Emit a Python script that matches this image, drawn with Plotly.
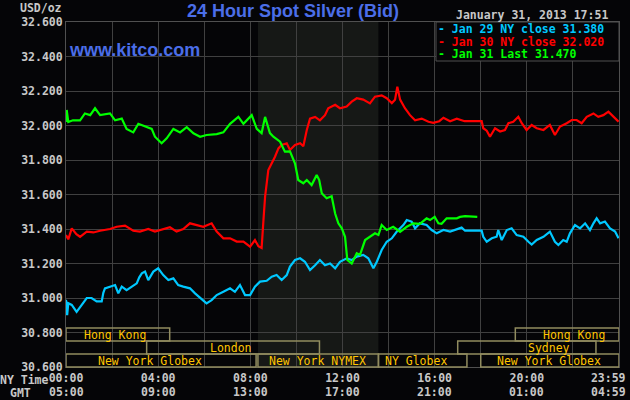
import plotly.graph_objects as go

# ---------------- data ----------------
jan29_hours = [0, 0.05, 0.1, 0.25, 0.46, 0.68, 0.9, 1.11, 1.33, 1.55,
               1.62, 1.69, 1.91, 2.13, 2.27, 2.42, 2.63, 2.85, 3.07, 3.18,
               3.29, 3.43, 3.57, 3.79, 4.0, 4.22, 4.44, 4.66, 4.87, 5.09,
               5.38, 5.6, 5.82, 6.1, 6.32, 6.54, 6.83, 7.12, 7.33, 7.55,
               7.77, 7.99, 8.2, 8.42, 8.71, 8.93, 9.14, 9.36, 9.58, 9.72,
               9.94, 10.16, 10.37, 10.59, 10.81, 11.02, 11.24, 11.46, 11.68, 11.89,
               12.18, 12.4, 12.62, 12.9, 13.12, 13.34, 13.49, 13.7, 13.92, 14.14,
               14.35, 14.64, 14.79, 15.0, 15.15, 15.36, 15.65, 15.87, 16.09, 16.38,
               16.67, 16.96, 17.17, 17.32, 18.04, 18.11, 18.26, 18.48, 18.69, 18.76,
               18.91, 19.13, 19.34, 19.56, 19.85, 20.07, 20.21, 20.43, 20.72, 21.0,
               21.22, 21.37, 21.58, 21.73, 21.87, 22.09, 22.31, 22.53, 22.74, 22.89,
               23.03, 23.18, 23.39, 23.61, 23.83, 23.98]
jan29_price = [30.99, 30.90, 30.97, 30.96, 30.92, 30.96, 31.0, 31.0, 30.98, 30.98,
               31.03, 31.056, 31.066, 31.075, 31.027, 31.066, 31.046, 31.066, 31.085, 31.12,
               31.143, 31.153, 31.104, 31.153, 31.172, 31.133, 31.104, 31.114, 31.075, 31.066,
               31.056, 31.027, 31.0, 30.969, 30.988, 31.017, 31.036, 31.056, 31.036, 31.075,
               31.017, 31.017, 31.066, 31.095, 31.1, 31.124, 31.133, 31.104, 31.133, 31.182,
               31.22, 31.23, 31.21, 31.162, 31.19, 31.22, 31.19, 31.2, 31.172, 31.21,
               31.23, 31.22, 31.24, 31.25, 31.23, 31.172, 31.21, 31.278, 31.326, 31.346,
               31.384, 31.423, 31.452, 31.443, 31.404, 31.433, 31.423, 31.394, 31.375, 31.394,
               31.385, 31.40, 31.408, 31.39, 31.39, 31.355, 31.326, 31.346, 31.355, 31.394,
               31.336, 31.394, 31.404, 31.365, 31.355, 31.326, 31.31, 31.336, 31.355, 31.385,
               31.326, 31.307, 31.336, 31.326, 31.375, 31.423, 31.404, 31.433, 31.394, 31.433,
               31.462, 31.433, 31.443, 31.404, 31.385, 31.346]

jan30_hours = [0, 0.1, 0.25, 0.45, 0.61, 0.9, 1.19, 1.48, 1.91, 2.2,
               2.56, 2.92, 3.21, 3.57, 3.86, 4.22, 4.51, 4.8, 5.09, 5.38,
               5.67, 5.96, 6.32, 6.54, 6.83, 7.12, 7.41, 7.7, 7.99, 8.2,
               8.35, 8.49, 8.57, 8.64, 8.78, 8.93, 9.07, 9.22, 9.36, 9.58,
               9.72, 9.94, 10.16, 10.3, 10.45, 10.59, 10.81, 11.02, 11.24, 11.38,
               11.68, 11.89, 12.18, 12.4, 12.62, 12.9, 13.19, 13.41, 13.7, 13.92,
               14.14, 14.28, 14.38, 14.5, 14.71, 14.93, 15.15, 15.44, 15.73, 15.94,
               16.2, 16.38, 16.67, 16.96, 17.24, 17.3, 18.04, 18.11, 18.26, 18.4,
               18.62, 18.84, 19.05, 19.2, 19.41, 19.63, 19.78, 19.99, 20.21, 20.43,
               20.72, 21.0, 21.22, 21.44, 21.73, 21.95, 22.16, 22.38, 22.6, 22.89,
               23.1, 23.32, 23.54, 23.76, 23.98]
jan30_price = [31.365, 31.34, 31.404, 31.37, 31.355, 31.385, 31.38, 31.39, 31.40, 31.413,
               31.42, 31.39, 31.385, 31.40, 31.385, 31.40, 31.41, 31.385, 31.40, 31.433,
               31.423, 31.413, 31.433, 31.385, 31.346, 31.346, 31.327, 31.327, 31.298, 31.336,
               31.30, 31.29, 31.452, 31.587, 31.742, 31.78, 31.819, 31.867, 31.887, 31.897,
               31.858, 31.887, 31.897, 31.88, 31.974, 32.04, 32.05, 32.03, 32.06, 32.10,
               32.12, 32.10, 32.11, 32.138, 32.158, 32.15, 32.128, 32.167, 32.175, 32.158,
               32.13, 32.15, 32.225, 32.15, 32.10, 32.06, 32.03, 32.04, 32.022, 32.015,
               32.025, 32.045, 32.025, 32.04, 32.03, 32.025, 32.025, 31.984, 31.97, 31.935,
               31.984, 31.965, 31.974, 32.013, 32.022, 32.051, 32.013, 31.974, 32.003, 31.984,
               31.974, 32.003, 31.945, 31.994, 32.013, 32.032, 32.032, 32.013, 32.05, 32.07,
               32.05, 32.06, 32.08, 32.05, 32.022]

jan31_hours = [0, 0.03, 0.1, 0.3, 0.61, 0.82, 1.05, 1.26, 1.48, 1.91,
               2.13, 2.42, 2.63, 2.92, 3.14, 3.5, 3.72, 3.86, 4.15, 4.37,
               4.66, 4.95, 5.24, 5.53, 5.82, 6.1, 6.54, 6.83, 7.12, 7.48,
               7.7, 7.99, 8.06, 8.28, 8.49, 8.64, 8.85, 9.0, 9.29, 9.5,
               9.72, 9.94, 10.08, 10.3, 10.45, 10.66, 10.88, 10.99, 11.1, 11.31,
               11.53, 11.68, 11.82, 11.97, 12.11, 12.21, 12.4, 12.62, 12.76, 12.98,
               13.19, 13.41, 13.56, 13.7, 13.92, 14.2, 14.5, 14.79, 15.07, 15.36,
               15.65, 15.8, 16.0, 16.16, 16.3, 16.52, 16.96, 17.1, 17.32, 17.85]
jan31_price = [32.02, 32.09, 32.02, 32.03, 32.03, 32.07, 32.06, 32.10, 32.06, 32.07,
               32.03, 32.04, 31.98, 31.96, 32.01, 31.99, 31.98, 31.935, 31.897, 31.926,
               31.98, 31.96, 31.99, 31.955, 31.935, 31.945, 31.95, 31.96, 32.01, 32.05,
               32.01, 32.05, 32.06, 31.98, 31.956, 32.05, 31.956, 31.935, 31.906, 31.848,
               31.85, 31.78, 31.684, 31.665, 31.684, 31.655, 31.713, 31.684, 31.607, 31.578,
               31.59, 31.49, 31.433, 31.404, 31.355, 31.22, 31.2, 31.259, 31.25, 31.336,
               31.355, 31.375, 31.365, 31.423, 31.394, 31.413, 31.384, 31.413, 31.433, 31.43,
               31.462, 31.452, 31.471, 31.433, 31.43, 31.462, 31.462, 31.47, 31.475, 31.47]

series_names = ["Jan 29 NY close 31.380", "Jan 30 NY close 32.020", "Jan 31 Last 31.470"]

tick_hours = [0, 2, 4, 6, 8, 10, 12, 14, 16, 18, 20, 22, 23.983]
ny_labels = ["00:00", "", "04:00", "", "08:00", "", "12:00", "", "16:00", "", "20:00", "", "23:59"]
gmt_labels = ["05:00", "", "09:00", "", "13:00", "", "17:00", "", "21:00", "", "01:00", "", "04:59"]

nymex_hours = [8.33, 13.56]

session_names = ["Hong Kong", "London", "Hong Kong", "Sydney",
                 "New York Globex", "New York NYMEX", "NY Globex", "New York Globex"]
session_start = [0, 3.5, 19.5, 17.0, 0, 8.33, 13.56, 18.0]
session_end = [4.5, 11.0, 24.0, 23.0, 8.25, 13.56, 17.4, 24.0]
session_row = [0, 1, 0, 1, 2, 2, 2, 2]

# ---------------- style / layout ----------------
W, H = 630, 400
ML, MR, MT, MB = 66, 11, 22, 33
PW, PH = W - ML - MR, H - MT - MB


def px_x(px):
    return (px - ML) / PW


def px_y(py):
    return 1 - (py - MT) / PH


BG = "#050507"
GRID = "#404040"
MONO = "DejaVu Sans Mono"
FS = 11.5
TXT = "#c8c8c8"
NB = "\u00a0"
colors = ["#00c8ff", "#ff0000", "#00ff00"]
label_hours = [2.13, 7.16, 22.05, 20.96, 3.65, 10.9, 15.19, 20.96]
row_px = [(328, 341), (341, 354), (354, 367)]
gray_font = dict(family=MONO, size=FS, color=TXT, weight="bold")

fig = go.Figure()
for hrs, vals, c, n in zip([jan29_hours, jan30_hours, jan31_hours],
                           [jan29_price, jan30_price, jan31_price], colors, series_names):
    fig.add_trace(go.Scatter(x=hrs, y=vals, mode="lines", name=n,
                             line=dict(color=c, width=2.2), hoverinfo="skip"))

shapes = []
shapes.append(dict(type="rect", xref="x", yref="paper", x0=nymex_hours[0], x1=nymex_hours[1],
                   y0=0, y1=1, fillcolor="#161816", line=dict(width=0), layer="below"))
annotations = []
for name, s, e, r, lh in zip(session_names, session_start, session_end, session_row, label_hours):
    top, bot = row_px[r]
    shapes.append(dict(type="rect", xref="x", yref="paper", x0=s, x1=e,
                       y0=px_y(bot), y1=px_y(top), line=dict(color="#918c5f", width=1.5),
                       fillcolor="rgba(0,0,0,0)", layer="above"))
    annotations.append(dict(text=name, xref="x", yref="paper", x=lh, y=px_y((top + bot) / 2 + 0.5),
                            xanchor="center", yanchor="middle", showarrow=False,
                            font=dict(family=MONO, size=FS, color="#ffc400")))

# legend box
shapes.append(dict(type="rect", xref="paper", yref="paper", x0=px_x(436), x1=1,
                   y0=px_y(61), y1=1, fillcolor=BG, line=dict(color="#505050", width=1),
                   layer="above"))
for i, (n, c) in enumerate(zip(series_names, colors)):
    annotations.append(dict(text="- " + n, xref="paper", yref="paper", x=px_x(437),
                            y=px_y(29 + 12.5 * i), xanchor="left", yanchor="middle",
                            showarrow=False, borderpad=0,
                            font=dict(family=MONO, size=FS, color=c, weight="bold")))

# GMT row of time labels (second line under the NY-time ticks)
for h, g in zip(tick_hours, gmt_labels):
    if g:
        annotations.append(dict(text=g + (NB * 3 if h > 23 else ""), xref="x", yref="paper",
                                x=h, y=px_y(392), xanchor="center", yanchor="middle",
                                showarrow=False, borderpad=0, font=gray_font))

annotations += [
    dict(text="24 Hour Spot Silver (Bid)", xref="paper", yref="paper", x=px_x(185), y=px_y(11),
         xanchor="left", yanchor="middle", showarrow=False,
         font=dict(family="Liberation Sans, Arial", size=18, color="#4b6ee8", weight="bold")),
    dict(text="www.kitco.com", xref="paper", yref="paper", x=px_x(67), y=px_y(50),
         xanchor="left", yanchor="middle", showarrow=False,
         font=dict(family="Liberation Sans, Arial", size=18, color="#4b6ee8", weight="bold")),
    dict(text="January 31, 2013 17:51", xref="paper", yref="paper", x=px_x(454), y=px_y(15),
         xanchor="left", yanchor="middle", showarrow=False, font=gray_font),
    dict(text="USD/oz", xref="paper", yref="paper", x=px_x(41), y=px_y(8),
         xanchor="center", yanchor="middle", showarrow=False, font=gray_font),
    dict(text="NY Time", xref="paper", yref="paper", x=px_x(24), y=px_y(380),
         xanchor="center", yanchor="middle", showarrow=False, borderpad=0, font=gray_font),
    dict(text="GMT", xref="paper", yref="paper", x=px_x(20), y=px_y(393),
         xanchor="center", yanchor="middle", showarrow=False, borderpad=0, font=gray_font),
]

fig.update_layout(
    width=W, height=H, margin=dict(l=ML, r=MR, t=MT, b=MB, pad=0, autoexpand=False),
    paper_bgcolor=BG, plot_bgcolor=BG, showlegend=False,
    shapes=shapes, annotations=annotations,
    xaxis=dict(range=[0, 24], tickvals=tick_hours,
               ticktext=[a + (NB * 3 if h > 23 else "") for h, a in zip(tick_hours, ny_labels)],
               showgrid=True, gridcolor=GRID, gridwidth=1, zeroline=False, automargin=False,
               showline=True, linecolor="#505050", mirror=True, ticks="",
               ticklabeloverflow="allow", tickfont=gray_font, tickangle=0),
    yaxis=dict(range=[30.6, 32.6], tick0=30.6, dtick=0.2, tickformat=".3f",
               showgrid=True, gridcolor=GRID, gridwidth=1, zeroline=False, automargin=False,
               showline=True, linecolor="#505050", mirror=True, ticks="",
               tickfont=gray_font),
)

fig.write_html("out.html", config={"displayModeBar": False},
               post_script="document.body.style.margin='0';document.body.style.background='#050507';")
